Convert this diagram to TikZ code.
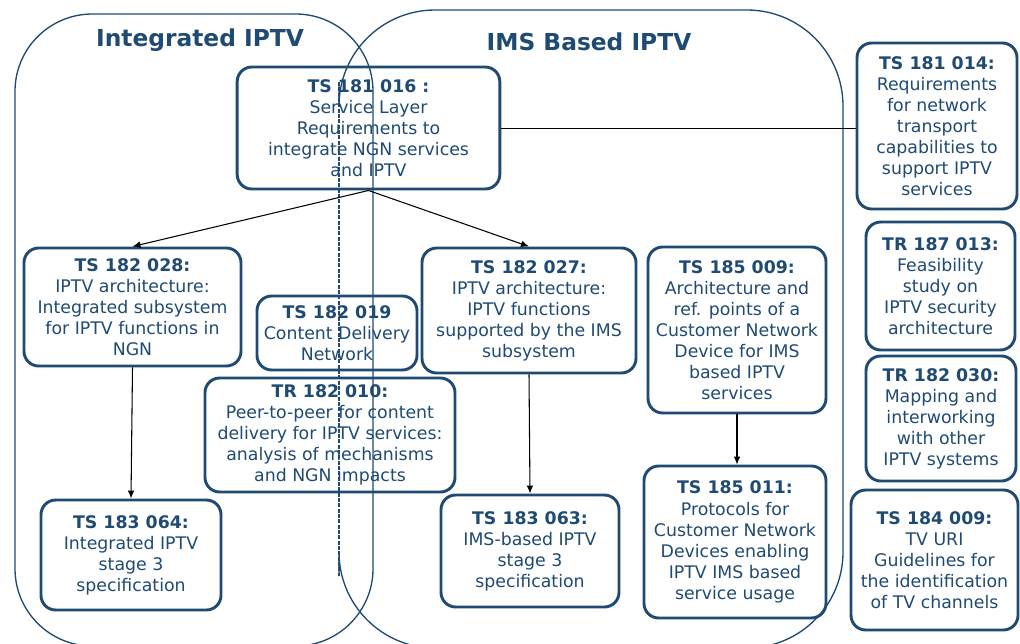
\documentclass[tikz,border=0pt]{standalone}
\usepackage{fontspec}
\setmainfont{DejaVu Sans}
\usetikzlibrary{arrows.meta}

\definecolor{etsiblue}{RGB}{31,74,114}

\tikzset{every picture/.style={line width=0.75pt}}
\tikzset{
	region/.style={draw=etsiblue, line width=1pt},
	grouptitle/.style={text=etsiblue, font=\fontsize{17.5}{21}\selectfont\bfseries, inner sep=0pt},
	spec/.style={draw=etsiblue, line width=2.2pt, rounded corners=11pt, text=etsiblue, align=center, inner sep=0pt, font=\fontsize{13}{15.8}\selectfont},
	dep/.style={draw=black, line width=0.8pt, -{Latex[length=6pt,width=5pt]}}
}

\begin{document}
\begin{tikzpicture}[x=0.75pt,y=0.75pt,yscale=-1,xscale=1]
		\useasboundingbox (0,0) rectangle (1020,643);
		
		%groups
		\draw [region, rounded corners=58] (15,14) rectangle (373,646);
		\draw [region, rounded corners=72] (339,82) |- (843,10) |- (339,648) -- (339,576);
		\draw [region, dash pattern=on 3pt off 1pt] (339,82) -- (339,576);
		
		\node [grouptitle] (integrated) at (200,40) {Integrated IPTV};
		\node [grouptitle] (imsbased) at (589,42) {IMS Based IPTV};
		
		%specifications
		\node [spec, minimum width=197pt, minimum height=91.5pt] (ts181016) at (368.5,128) {\textbf{TS 181 016 :}\\Service Layer\\Requirements to\\integrate NGN services\\and IPTV};
		\node [spec, minimum width=120pt, minimum height=124.5pt] (ts181014) at (937,126) {\textbf{TS 181 014:}\\Requirements\\for network\\transport\\capabilities to\\support IPTV\\services};
		\node [spec, minimum width=111.75pt, minimum height=96pt] (tr187013) at (940.5,286) {\textbf{TR 187 013:}\\Feasibility\\study on\\IPTV security\\architecture};
		\node [spec, minimum width=112.5pt, minimum height=93.75pt] (tr182030) at (941,418.5) {\textbf{TR 182 030:}\\Mapping and\\interworking\\with other\\IPTV systems};
		\node [spec, minimum width=125.25pt, minimum height=105pt] (ts184009) at (934.5,560) {\textbf{TS 184 009:}\\TV URI\\Guidelines for\\the identification\\of TV channels};
		
		\node [spec, minimum width=162.75pt, minimum height=88.5pt] (ts182028) at (132.5,307) {\textbf{TS 182 028:}\\IPTV architecture:\\Integrated subsystem\\for IPTV functions in\\NGN};
		\node [spec, minimum width=120pt, minimum height=55.5pt] (ts182019) at (337,333) {\textbf{TS 182 019}\\Content Delivery\\Network};
		\node [spec, minimum width=187.5pt, minimum height=85.5pt] (tr182010) at (330,435) {\textbf{TR 182 010:}\\Peer-to-peer for content\\delivery for IPTV services:\\analysis of mechanisms\\and NGN impacts};
		\node [spec, minimum width=160.5pt, minimum height=93.75pt] (ts182027) at (529,310.5) {\textbf{TS 182 027:}\\IPTV architecture:\\IPTV functions\\supported by the IMS\\subsystem};
		\node [spec, minimum width=133.5pt, minimum height=124.5pt] (ts185009) at (737,330) {\textbf{TS 185 009:}\\Architecture and\\ref. points of a\\Customer Network\\Device for IMS\\based IPTV\\services};
		\node [spec, minimum width=136.5pt, minimum height=114pt] (ts185011) at (735,542) {\textbf{TS 185 011:}\\Protocols for\\Customer Network\\Devices enabling\\IPTV IMS based\\service usage};
		\node [spec, minimum width=135pt, minimum height=82.5pt] (ts183064) at (131,555) {\textbf{TS 183 064:}\\Integrated IPTV\\stage 3\\specification};
		\node [spec, minimum width=133.5pt, minimum height=84pt] (ts183063) at (530,551) {\textbf{TS 183 063:}\\IMS-based IPTV\\stage 3\\specification};
		
		%dependencies
		\draw [dep] (ts181016.south) -- (ts182028.north);
		\draw [dep] (ts181016.south) -- (ts182027.north);
		\draw [dep] (ts182028.south) -- (ts183064.north);
		\draw [dep] (ts182027.south) -- (ts183063.north);
		\draw [dep] (ts185009.south) -- (ts185009.south |- ts185011.north);
		\draw [draw=black, line width=0.6pt] (ts181016.east) -- (ts181016.east -| ts181014.west);
		
	\end{tikzpicture}
\end{document}
